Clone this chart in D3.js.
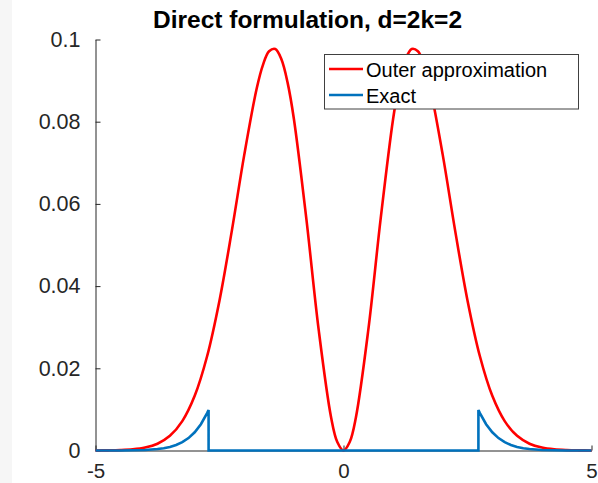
<!DOCTYPE html>
<html>
<head>
<meta charset="utf-8">
<script src="https://cdn.jsdelivr.net/npm/d3@7"></script>
<style>
  html, body { margin: 0; padding: 0; background: #fff; }
  svg { display: block; }
  text { font-family: "Liberation Sans", Arial, Helvetica, sans-serif; }
</style>
</head>
<body>
<svg id="chart" width="598" height="483"></svg>
<script>
// ---- data ----
const titleText = "Direct formulation, d=2k=2";
const seriesNames = ["Outer approximation", "Exact"];

const outerX = [-5,-4.75,-4.5,-4.25,-4,-3.75,-3.5,-3.25,-3,-2.75,-2.5,-2.25,-2,-1.75,-1.625,-1.5,-1.375,-1.25,-1.125,-1,-0.75,-0.5,-0.25,-0.125,0,
                0.125,0.25,0.5,0.75,1,1.125,1.25,1.375,1.5,1.625,1.75,2,2.25,2.5,2.75,3,3.25,3.5,3.75,4,4.25,4.5,4.75,5];
const outerY = [0.000012,0.000038,0.000108,0.000287,0.000714,0.001655,0.003565,0.007144,0.013296,0.022924,0.036517,0.053561,0.071988,0.088074,0.093779,0.097138,0.097693,0.095130,0.089386,0.080657,0.056463,0.029339,0.008056,0.002062,0,
                0.002062,0.008056,0.029339,0.056463,0.080657,0.089386,0.095130,0.097693,0.097138,0.093779,0.088074,0.071988,0.053561,0.036517,0.022924,0.013296,0.007144,0.003565,0.001655,0.000714,0.000287,0.000108,0.000038,0.000012];

const exactX = [-5,-4.75,-4.5,-4.25,-4,-3.75,-3.625,-3.5,-3.375,-3.25,-3.125,-3,-2.875,-2.75,-2.72,-2.72,
                2.72,2.72,2.75,2.875,3,3.125,3.25,3.375,3.5,3.625,3.75,4,4.25,4.5,4.75,5];
const exactY = [0.0000015,0.000005,0.000016,0.000048,0.000134,0.000353,0.000559,0.000873,0.001342,0.002029,0.003021,0.004432,0.006396,0.009094,0.00987,0,
                0,0.00987,0.009094,0.006396,0.004432,0.003021,0.002029,0.001342,0.000873,0.000559,0.000353,0.000134,0.000048,0.000016,0.000005,0.0000015];

const xTicks = [-5, 0, 5];
const xTickLabels = ["-5", "0", "5"];
const yTicks = [0, 0.02, 0.04, 0.06, 0.08, 0.1];
const yTickLabels = ["0", "0.02", "0.04", "0.06", "0.08", "0.1"];

// ---- drawing ----
const svg = d3.select("#chart");
const W = 598, H = 483;
const axisColor = "#262626";
const colors = ["#ff0000", "#0072bd"];

svg.append("rect").attr("x", 0).attr("y", 0).attr("width", W).attr("height", H).attr("fill", "#ffffff");
svg.append("rect").attr("x", 0).attr("y", 0).attr("width", 12).attr("height", H).attr("fill", "#f6f6f6");

const x = d3.scaleLinear().domain([-5, 5]).range([95.5, 591.5]);
const y = d3.scaleLinear().domain([0, 0.1]).range([450.5, 39.5]);

// axes
const gx = svg.append("g").attr("transform", `translate(0,${y(0)})`)
  .call(d3.axisBottom(x).tickValues(xTicks).tickFormat((d, i) => xTickLabels[i])
        .tickSizeInner(-5).tickSizeOuter(0).tickPadding(13));
const gy = svg.append("g").attr("transform", `translate(${x(-5)},0)`)
  .call(d3.axisLeft(y).tickValues(yTicks).tickFormat((d, i) => yTickLabels[i])
        .tickSizeInner(-5).tickSizeOuter(0).tickPadding(15));
[gx, gy].forEach(g => {
  g.select(".domain").attr("stroke", axisColor).attr("stroke-width", 1);
  g.selectAll(".tick line").attr("stroke", axisColor).attr("stroke-width", 1);
  g.selectAll(".tick text").attr("fill", axisColor)
   .style("font-family", '"Liberation Sans", Arial, Helvetica, sans-serif');
});
gy.selectAll(".tick text").style("font-size", "21.5px");
gx.selectAll(".tick text").style("font-size", "20.5px");

// curves
const outerData = outerX.map((v, i) => [v, outerY[i]]);
const exactData = exactX.map((v, i) => [v, exactY[i]]);

svg.append("path").datum(outerData)
  .attr("d", d3.line().x(d => x(d[0])).y(d => y(d[1])).curve(d3.curveCatmullRom.alpha(0.5)))
  .attr("fill", "none").attr("stroke", colors[0]).attr("stroke-width", 2.6);

svg.append("path").datum(exactData)
  .attr("d", d3.line().x(d => x(d[0])).y(d => y(d[1])))
  .attr("fill", "none").attr("stroke", colors[1]).attr("stroke-width", 2.6);

// title
svg.append("text").attr("x", 307.5).attr("y", 28).attr("text-anchor", "middle")
  .style("font-size", "24.5px").style("font-weight", "bold").attr("fill", "#000")
  .text(titleText);

// legend
const lg = svg.append("g");
lg.append("rect").attr("x", 324.5).attr("y", 54.5).attr("width", 254).attr("height", 54.5)
  .attr("fill", "#fff").attr("stroke", "#404040").attr("stroke-width", 1);
const legYs = [69, 95];
seriesNames.forEach((name, i) => {
  lg.append("line").attr("x1", 329).attr("x2", 363).attr("y1", legYs[i]).attr("y2", legYs[i])
    .attr("stroke", colors[i]).attr("stroke-width", 2.6);
  lg.append("text").attr("x", 366).attr("y", legYs[i] + 7.5)
    .style("font-size", "20px").attr("fill", "#000").text(name);
});
</script>
</body>
</html>
